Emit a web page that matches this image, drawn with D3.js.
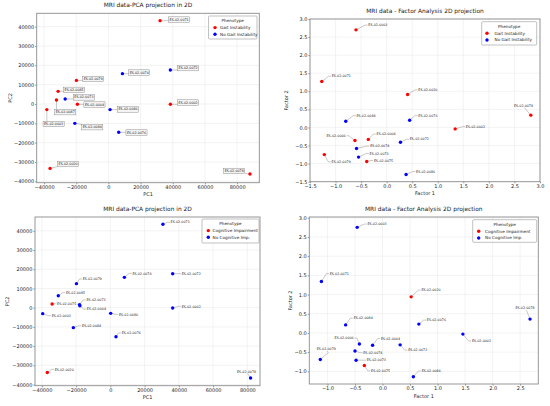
<!DOCTYPE html>
<html>
<head>
<meta charset="utf-8">
<script src="https://cdn.jsdelivr.net/npm/d3@7"></script>
<style>
  body { margin: 0; background: #fff; }
  svg { font-family: "DejaVu Sans", sans-serif; }
</style>
</head>
<body>
<div id="chart"></div>
<script>
// ---- data ----
// top-left: PCA, gait phenotype
var tlIds = ["ES-02-0071", "ES-02-0072", "ES-02-0074", "ES-02-0079", "ES-02-0085", "ES-02-0073", "ES-02-0087", "ES-02-0004",
             "ES-02-0002", "ES-02-0003", "ES-02-0086", "ES-02-0084", "ES-02-0076", "ES-02-0020", "ES-02-0078"];
var tlPC1 = [32100, 38500, 8700, -19900, -31300, -26900, -32300, -19300, 38500, -38300, 1000, -20900, 6400, -36300, 88000];
var tlPC2 = [43100, 17600, 15700, 12200, 6550, 2600, 2070, -170, -170, -2900, -2900, -10000, -14650, -33300, -36200];
var tlGroup = [1, 0, 0, 1, 1, 0, 1, 1, 1, 1, 0, 0, 0, 1, 1];

// top-right: factor analysis, gait phenotype
var trIds = ["ES-02-0003", "ES-02-0071", "ES-02-0020", "ES-02-0078", "ES-02-0084", "ES-02-0076", "ES-02-0002", "ES-02-0006",
             "ES-02-0004", "ES-02-0072", "ES-02-0074", "ES-02-0073", "ES-02-0079", "ES-02-0075", "ES-02-0086"];
var trF1 = [-0.60, -1.27, 0.41, 2.82, -0.80, 0.45, 1.34, -0.62, -0.36, 0.27, -0.59, -0.55, -1.22, -0.39, 0.38];
var trF2 = [2.70, 1.27, 0.91, 0.34, 0.17, 0.20, -0.04, -0.36, -0.33, -0.41, -0.58, -0.82, -0.75, -0.94, -1.30];
var trGroup = [1, 1, 1, 1, 0, 0, 1, 1, 1, 0, 0, 0, 1, 1, 0];

// bottom-left: PCA, cognitive phenotype
var blIds = ["ES-02-0071", "ES-02-0072", "ES-02-0074", "ES-02-0079", "ES-02-0085", "ES-02-0075", "ES-02-0073", "ES-02-0004",
             "ES-02-0002", "ES-02-0003", "ES-02-0086", "ES-02-0084", "ES-02-0076", "ES-02-0020", "ES-02-0078"];
var blPC1 = [30700, 36400, 8200, -19800, -30400, -34000, -18000, -17800, 36400, -39500, 200, -21600, 3300, -36800, 81900];
var blPC2 = [43400, 17700, 15800, 12500, 6250, 1900, 1600, 1000, -170, -3100, -2950, -10400, -15100, -33700, -36600];
var blGroup = [0, 0, 0, 0, 0, 1, 0, 0, 0, 0, 0, 0, 0, 1, 0];

// bottom-right: factor analysis, cognitive phenotype
var brIds = ["ES-02-0003", "ES-02-0071", "ES-02-0020", "ES-02-0078", "ES-02-0084", "ES-02-0076", "ES-02-0002", "ES-02-0006",
             "ES-02-0004", "ES-02-0072", "ES-02-0074", "ES-02-0079", "ES-02-0073", "ES-02-0075", "ES-02-0086"];
var brF1 = [-0.46, -1.11, 0.52, 2.68, -0.67, 0.66, 1.46, -0.42, -0.18, 0.32, -0.50, -1.13, -0.48, -0.33, 0.56];
var brF2 = [2.75, 1.34, 0.94, 0.36, 0.21, 0.23, -0.03, -0.29, -0.32, -0.31, -0.47, -0.69, -0.71, -0.85, -1.14];
var brGroup = [0, 0, 1, 0, 0, 0, 0, 0, 0, 0, 0, 0, 0, 1, 0];

var gaitLabels = ["No Gait Instability", "Gait Instability"];
var cogLabels = ["No Cognitive Imp.", "Cognitive Impairment"];

var pcaXTicks = [-40000, -20000, 0, 20000, 40000, 60000, 80000];
var pcaYTicks = [-40000, -30000, -20000, -10000, 0, 10000, 20000, 30000, 40000];
var trTicks = [-1.5, -1.0, -0.5, 0.0, 0.5, 1.0, 1.5, 2.0, 2.5, 3.0];
var brXTicks = [-1.0, -0.5, 0.0, 0.5, 1.0, 1.5, 2.0, 2.5];
var brYTicks = [-1.0, -0.5, 0.0, 0.5, 1.0, 1.5, 2.0, 2.5, 3.0];

// ---- label placement (pixel offsets from the point: dx, dy, anchor) ----
var tlLabelPos = {
  "ES-02-0071": [9.5, -1.3, "start"], "ES-02-0072": [8.2, -2, "start"], "ES-02-0074": [7.2, -1.3, "start"],
  "ES-02-0079": [7.2, -1.7, "start"], "ES-02-0085": [6.5, -1.7, "start"], "ES-02-0073": [9.2, -1.7, "start"],
  "ES-02-0087": [-0.8, 12, "start"], "ES-02-0004": [7.5, 0, "start"], "ES-02-0002": [8.2, -2, "start"],
  "ES-02-0003": [-2.8, 14.3, "start"], "ES-02-0086": [8.5, -0.3, "start"], "ES-02-0084": [7.9, 3.7, "start"],
  "ES-02-0076": [8.2, 0, "start"], "ES-02-0020": [8.5, -4.7, "start"], "ES-02-0078": [-6.2, -3.3, "end"]
};
var trLabelPos = {
  "ES-02-0003": [12.3, -4.7, "start"], "ES-02-0071": [10, -5.3, "start"], "ES-02-0020": [10.7, -4.7, "start"],
  "ES-02-0078": [-7.3, -9.7, "middle"], "ES-02-0084": [10.7, -5.7, "start"], "ES-02-0076": [8.7, -4.7, "start"],
  "ES-02-0002": [10.7, -2.3, "start"], "ES-02-0006": [-9.3, -4.7, "end"], "ES-02-0004": [8.3, -5.3, "start"],
  "ES-02-0072": [9.3, -3, "start"], "ES-02-0074": [13.7, -2.3, "start"], "ES-02-0073": [11, -3.7, "start"],
  "ES-02-0079": [7.3, 7.3, "start"], "ES-02-0075": [7.3, -1, "start"], "ES-02-0086": [10, -3, "start"]
};
var blLabelPos = {
  "ES-02-0071": [7.7, -2, "start"], "ES-02-0072": [9, 0, "start"], "ES-02-0074": [8, -4, "start"],
  "ES-02-0079": [6.3, -4.7, "start"], "ES-02-0085": [7.7, -3, "start"], "ES-02-0075": [5, -0.3, "start"],
  "ES-02-0073": [7, -4.7, "start"], "ES-02-0004": [7, 3.3, "start"], "ES-02-0002": [9, -1.7, "start"],
  "ES-02-0003": [9, 2, "start"], "ES-02-0086": [8.3, 1, "start"], "ES-02-0084": [8.7, -2, "start"],
  "ES-02-0076": [5.7, -3.7, "start"], "ES-02-0020": [7.3, -3, "start"], "ES-02-0078": [-4, -6.7, "middle"]
};
var brLabelPos = {
  "ES-02-0003": [10.3, -3.3, "start"], "ES-02-0071": [8.3, -8, "start"], "ES-02-0020": [10.3, -6.7, "start"],
  "ES-02-0078": [-5, -11, "middle"], "ES-02-0084": [8, -6.7, "start"], "ES-02-0076": [8, -4, "start"],
  "ES-02-0002": [9, 7, "start"], "ES-02-0006": [-5.7, -6, "end"], "ES-02-0004": [8.3, -6.7, "start"],
  "ES-02-0072": [8, 5.3, "start"], "ES-02-0074": [8.3, 1.7, "start"], "ES-02-0079": [6, -10.3, "middle"],
  "ES-02-0073": [10.7, 0, "start"], "ES-02-0075": [6.7, 5.3, "start"], "ES-02-0086": [8.3, -5.7, "start"]
};

var svgWidth = 550;
var svgHeight = 406;
var svg = d3.select("#chart")
    .append("svg")
    .attr("width", svgWidth)
    .attr("height", svgHeight);

var colors = ["#0000ff", "#ff0000"];
var fmtInt = d => d3.format("d")(d).replace("-", "\u2212");
var fmtDec = d => d3.format(".1f")(d).replace("-", "\u2212");

function drawPanel(p) {
    var g = svg.append("g");
    var x = d3.scaleLinear().domain(p.xDomain).range([p.left, p.right]);
    var y = d3.scaleLinear().domain(p.yDomain).range([p.bottom, p.top]);

    // grid
    g.append("g").selectAll("line").data(p.xTicks).join("line")
        .attr("x1", d => x(d)).attr("x2", d => x(d))
        .attr("y1", p.top).attr("y2", p.bottom)
        .attr("stroke", "#e6e6e6").attr("stroke-width", 0.5);
    g.append("g").selectAll("line").data(p.yTicks).join("line")
        .attr("y1", d => y(d)).attr("y2", d => y(d))
        .attr("x1", p.left).attr("x2", p.right)
        .attr("stroke", "#e6e6e6").attr("stroke-width", 0.5);

    // axes
    var xAxis = d3.axisBottom(x).tickValues(p.xTicks).tickFormat(p.fmt).tickSize(1.6).tickPadding(1);
    var yAxis = d3.axisLeft(y).tickValues(p.yTicks).tickFormat(p.fmt).tickSize(1.6).tickPadding(1);
    var xg = g.append("g").attr("transform", `translate(0, ${p.bottom})`).call(xAxis);
    var yg = g.append("g").attr("transform", `translate(${p.left}, 0)`).call(yAxis);
    [xg, yg].forEach(function(a) {
        a.select(".domain").remove();
        a.selectAll("line").attr("stroke", "#333").attr("stroke-width", 0.5);
        a.selectAll("text").attr("font-size", 5).attr("fill", "#222")
            .attr("font-family", "DejaVu Sans");
    });

    // frame
    g.append("rect")
        .attr("x", p.left).attr("y", p.top)
        .attr("width", p.right - p.left).attr("height", p.bottom - p.top)
        .attr("fill", "none").attr("stroke", "#8c8c8c").attr("stroke-width", 0.9);

    var pts = p.ids.map((id, i) => ({id: id, cx: x(p.xs[i]), cy: y(p.ys[i]), grp: p.groups[i]}));

    // labels and connectors
    var lab = g.append("g");
    pts.forEach(function(d) {
        var pos = p.labelPos[d.id];
        var tx = d.cx + pos[0], ty = d.cy + pos[1];
        var conn = lab.append("path").attr("fill", "none")
            .attr("stroke", "#777").attr("stroke-width", 0.4);
        var t = lab.append("text")
            .attr("x", tx).attr("y", ty).attr("dy", "0.36em")
            .attr("text-anchor", pos[2])
            .attr("font-size", 3.3).attr("fill", "#222")
            .text(d.id);
        if (p.boxed) {
            var bb = t.node().getBBox();
            var bx = bb.x - 1, by = bb.y - 0.7, bw = bb.width + 2, bh = bb.height + 1.4;
            lab.insert("rect", "text")
                .attr("x", bx).attr("y", by).attr("width", bw).attr("height", bh)
                .attr("fill", "#f4f4f4").attr("stroke", "#777").attr("stroke-width", 0.4);
            var nx = Math.max(bx, Math.min(d.cx, bx + bw));
            var ny = Math.max(by, Math.min(d.cy, by + bh));
            conn.attr("d", `M${d.cx},${d.cy}L${nx},${ny}`);
        } else if (pos[2] === "start") {
            conn.attr("d", `M${d.cx},${d.cy}L${tx - 3.2},${ty}L${tx - 0.8},${ty}`);
        } else if (pos[2] === "end") {
            conn.attr("d", `M${d.cx},${d.cy}L${tx + 3.2},${ty}L${tx + 0.8},${ty}`);
        } else {
            conn.attr("d", `M${d.cx},${d.cy}L${tx + 2},${ty + 3.5}L${tx + 1},${ty + 2}`);
        }
    });

    // points
    g.append("g").selectAll("circle").data(pts).join("circle")
        .attr("cx", d => d.cx).attr("cy", d => d.cy)
        .attr("r", 1.7)
        .attr("fill", d => colors[d.grp]);

    // legend
    var L = p.legend;
    var lg = g.append("g").attr("transform", `translate(${L.x}, ${L.y})`);
    lg.append("rect").attr("width", L.w).attr("height", L.h).attr("rx", 1)
        .attr("fill", "#fff").attr("stroke", "#999").attr("stroke-width", 0.6);
    lg.append("text").attr("x", L.w / 2).attr("y", 4.6).attr("dy", "0.36em")
        .attr("text-anchor", "middle").attr("font-size", 4.2).attr("fill", "#222")
        .text("Phenotype");
    [1, 0].forEach(function(grp, k) {
        var ly = 11.6 + k * 6.7;
        lg.append("circle").attr("cx", L.mx - L.x).attr("cy", ly).attr("r", 1.7).attr("fill", colors[grp]);
        lg.append("text").attr("x", L.tx - L.x).attr("y", ly).attr("dy", "0.36em")
            .attr("font-size", 4.2).attr("fill", "#222").text(p.legendLabels[grp]);
    });

    // titles
    g.append("text").attr("x", (p.left + p.right) / 2).attr("y", p.top - 6.5)
        .attr("text-anchor", "middle").attr("font-size", 5.9).attr("fill", "#222")
        .text(p.title);
    g.append("text").attr("x", (p.left + p.right) / 2).attr("y", p.bottom + 13.5)
        .attr("text-anchor", "middle").attr("font-size", 5).attr("fill", "#222")
        .text(p.xLabel);
    g.append("text")
        .attr("transform", `translate(${p.yLabelX}, ${(p.top + p.bottom) / 2}) rotate(-90)`)
        .attr("dy", "0.36em")
        .attr("text-anchor", "middle").attr("font-size", 5).attr("fill", "#222")
        .text(p.yLabel);
}

drawPanel({
    ids: tlIds, xs: tlPC1, ys: tlPC2, groups: tlGroup, labelPos: tlLabelPos, boxed: true,
    xDomain: [-44600, 93800], yDomain: [-40700, 46900], xTicks: pcaXTicks, yTicks: pcaYTicks, fmt: fmtInt,
    left: 36.7, right: 259.3, top: 13.3, bottom: 182.7, yLabelX: 10,
    title: "MRI data-PCA projection in 2D", xLabel: "PC1", yLabel: "PC2",
    legendLabels: gaitLabels, legend: {x: 208.5, y: 16, w: 48.5, h: 23, mx: 215, tx: 220}
});
drawPanel({
    ids: trIds, xs: trF1, ys: trF2, groups: trGroup, labelPos: trLabelPos, boxed: false,
    xDomain: [-1.5, 3.0], yDomain: [-1.5, 3.0], xTicks: trTicks, yTicks: trTicks, fmt: fmtDec,
    left: 310, right: 540, top: 19, bottom: 181.7, yLabelX: 286,
    title: "MRI data - Factor Analysis 2D projection", xLabel: "Factor 1", yLabel: "Factor 2",
    legendLabels: gaitLabels, legend: {x: 481.7, y: 21.7, w: 55, h: 23.3, mx: 487, tx: 494.5}
});
drawPanel({
    ids: blIds, xs: blPC1, ys: blPC2, groups: blGroup, labelPos: blLabelPos, boxed: false,
    xDomain: [-44000, 87400], yDomain: [-40600, 47200], xTicks: pcaXTicks, yTicks: pcaYTicks, fmt: fmtInt,
    left: 35, right: 260, top: 217, bottom: 385.7, yLabelX: 7.5,
    title: "MRI data-PCA projection in 2D", xLabel: "PC1", yLabel: "PC2",
    legendLabels: cogLabels, legend: {x: 202, y: 219, w: 57, h: 24, mx: 208.3, tx: 212.5}
});
drawPanel({
    ids: brIds, xs: brF1, ys: brF2, groups: brGroup, labelPos: brLabelPos, boxed: false,
    xDomain: [-1.33, 2.83], yDomain: [-1.33, 3.02], xTicks: brXTicks, yTicks: brYTicks, fmt: fmtDec,
    left: 309.3, right: 538.3, top: 217, bottom: 384, yLabelX: 290,
    title: "MRI data - Factor Analysis 2D projection", xLabel: "Factor 1", yLabel: "Factor 2",
    legendLabels: cogLabels, legend: {x: 472.7, y: 219.7, w: 64, h: 22.6, mx: 478.7, tx: 485}
});
</script>
</body>
</html>
